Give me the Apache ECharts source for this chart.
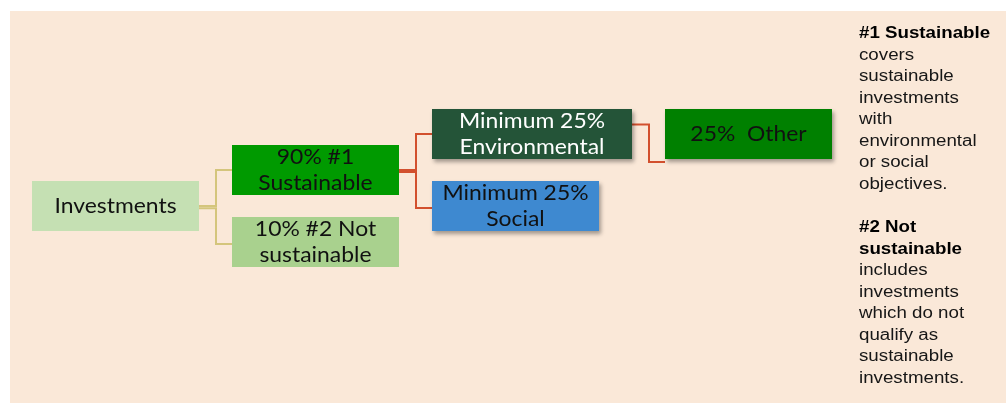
<!DOCTYPE html>
<html>
<head>
<meta charset="utf-8">
<style>
  html, body { margin: 0; padding: 0; background: #fff; }
  #chart { width: 1006px; height: 403px; }
</style>
<script src="https://cdn.jsdelivr.net/npm/echarts@6/dist/echarts.min.js"></script>
</head>
<body>
<div id="chart"></div>
<script>
// nodes of the investment tree
const nodeNames = ['Investments', '90% #1\nSustainable', '10% #2 Not\nsustainable',
  'Minimum 25%\nEnvironmental', 'Minimum 25%\nSocial', '25%  Other'];
const nodeLevel = [0, 1, 1, 2, 2, 3];
const nodeRow = [2, 1, 3, 0, 2, 0];
const nodeParent = [-1, 0, 0, 1, 1, 3];

const noteLines = ['{b|#1 Sustainable}', 'covers', 'sustainable', 'investments', 'with',
  'environmental', 'or social', 'objectives.', '', '{b|#2 Not}', '{b|sustainable}', 'includes',
  'investments', 'which do not', 'qualify as', 'sustainable', 'investments.'];

// look
const boxFill = ['#c5e0b3', '#009a00', '#a9d18e', '#245438', '#3e89d0', '#008000'];
const boxText = ['#111', '#111', '#111', '#fff', '#111', '#111'];
const boxShadow = [false, false, false, true, true, true];
const boxW = [167, 167, 167, 200, 167, 167];
const boxH = 50;
const gap = 33;
const elbow = 17;
// per child: connector start / end offsets and colour
const edgeStyle = {
  1: { s: 0, e: 0, c: '#d4c57c' },
  2: { s: 2.3, e: 2, c: '#d4c57c' },
  3: { s: 0, e: 0, c: '#d2502e' },
  4: { s: 2, e: 2, c: '#d2502e' },
  5: { s: -9.5, e: 28, c: '#d2502e' }
};

function boxLeft(i, api) {
  const x = api.coord([nodeLevel[i], nodeRow[i]])[0];
  const p = nodeParent[i];
  if (p < 0) return x;
  return Math.max(x, boxLeft(p, api) + boxW[p] + gap);
}
function boxMidY(i, api) {
  return api.coord([nodeLevel[i], nodeRow[i]])[1];
}

const nodeData = nodeNames.map((n, i) => [nodeLevel[i], nodeRow[i], i]);
const edgeData = nodeData.filter(d => nodeParent[d[2]] >= 0);

const chart = echarts.init(document.getElementById('chart'));
chart.setOption({
  animation: false,
  backgroundColor: '#fff',
  grid: { left: 32, top: 134, width: 600, height: 108 },
  xAxis: { type: 'value', min: 0, max: 3, show: false },
  yAxis: { type: 'value', min: 0, max: 3, inverse: true, show: false },
  graphic: [
    { type: 'rect', z: -10, shape: { x: 10, y: 11, width: 996, height: 392 },
      style: { fill: '#fae8d8' } },
    { type: 'text', z: 10, x: 859, y: 23, scaleX: 1.17,
      style: {
        text: noteLines.join('\n'),
        fontFamily: 'Liberation Sans, Arial, sans-serif',
        fontSize: 16, lineHeight: 21.55, fill: '#161616',
        rich: { b: { fontWeight: 'bold', fontSize: 16, lineHeight: 21.55, fill: '#000' } }
      } }
  ],
  series: [
    {
      type: 'custom',
      name: 'links',
      z: 2,
      clip: false,
      data: edgeData,
      renderItem: function (params, api) {
        const i = api.value(2);
        const p = nodeParent[i];
        const st = edgeStyle[i];
        const x0 = boxLeft(p, api) + boxW[p];
        const y0 = boxMidY(p, api) + st.s;
        const x1 = boxLeft(i, api);
        const y1 = boxMidY(i, api) + st.e;
        const xm = x0 + elbow;
        return {
          type: 'polyline',
          shape: { points: [[x0, y0], [xm, y0], [xm, y1], [x1, y1]] },
          style: { stroke: st.c, lineWidth: 2, fill: null }
        };
      }
    },
    {
      type: 'custom',
      name: 'boxes',
      z: 3,
      clip: false,
      data: nodeData,
      renderItem: function (params, api) {
        const i = api.value(2);
        const x = boxLeft(i, api);
        const y = boxMidY(i, api) - boxH / 2;
        const rectStyle = { fill: boxFill[i] };
        if (boxShadow[i]) {
          rectStyle.shadowBlur = 4;
          rectStyle.shadowOffsetX = 2;
          rectStyle.shadowOffsetY = 3;
          rectStyle.shadowColor = 'rgba(0,0,0,0.35)';
        }
        return {
          type: 'group',
          children: [
            { type: 'rect', shape: { x: x, y: y, width: boxW[i], height: boxH }, style: rectStyle },
            { type: 'text', x: x + boxW[i] / 2, y: y + boxH / 2 + 0.5, scaleX: 1.09,
              style: {
                text: nodeNames[i], align: 'center', verticalAlign: 'middle',
                fontFamily: 'Lato, sans-serif', fontSize: 21, lineHeight: 26,
                fill: boxText[i]
              } }
          ]
        };
      }
    }
  ]
});
</script>
</body>
</html>
